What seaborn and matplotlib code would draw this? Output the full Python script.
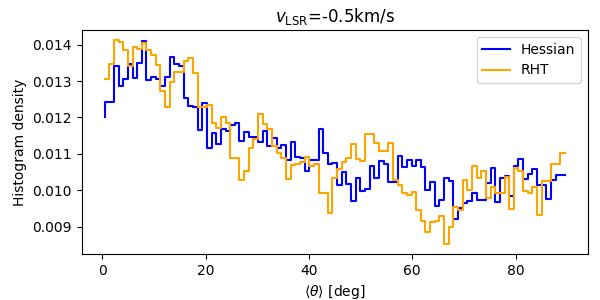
import numpy as np
import pandas as pd
import matplotlib
matplotlib.use("Agg")
import matplotlib.pyplot as plt
import seaborn as sns

# ===== 데이터: 100개 bin (0~90 deg, 폭 0.9) 의 중심값 =====
theta = np.linspace(0.45, 89.55, 100)

hessian = [
    0.01202, 0.01243, 0.01243, 0.01340, 0.01285, 0.01306, 0.01347, 0.01308, 0.01350, 0.01409,
    0.01303, 0.01310, 0.01305, 0.01287, 0.01310, 0.01365, 0.01347, 0.01340, 0.01253, 0.01232,
    0.01230, 0.01166, 0.01241, 0.01115, 0.01158, 0.01128, 0.01169, 0.01164, 0.01180, 0.01184,
    0.01135, 0.01161, 0.01146, 0.01147, 0.01133, 0.01164, 0.01121, 0.01144, 0.01116, 0.01125,
    0.01083, 0.01134, 0.01091, 0.01090, 0.01052, 0.01082, 0.01082, 0.01167, 0.01103, 0.01072,
    0.01075, 0.01016, 0.01049, 0.01017, 0.00970, 0.01035, 0.00999, 0.01005, 0.01068, 0.01033,
    0.01080, 0.01073, 0.01022, 0.01022, 0.01095, 0.01063, 0.01083, 0.01068, 0.01084, 0.01065,
    0.01000, 0.01022, 0.00958, 0.00973, 0.01033, 0.01025, 0.00920, 0.00951, 0.00964, 0.00972,
    0.00994, 0.00974, 0.00974, 0.01019, 0.01060, 0.00969, 0.01033, 0.01040, 0.00985, 0.01068,
    0.01085, 0.01030, 0.01046, 0.01058, 0.01014, 0.01014, 0.00976, 0.01028, 0.01043, 0.01043,
]

rht = [
    0.01306, 0.01306, 0.01347, 0.01412, 0.01406, 0.01386, 0.01340, 0.01392, 0.01388, 0.01403,
    0.01384, 0.01370, 0.01345, 0.01272, 0.01228, 0.01297, 0.01324, 0.01324, 0.01356, 0.01362,
    0.01321, 0.01228, 0.01228, 0.01235, 0.01186, 0.01170, 0.01200, 0.01184, 0.01088, 0.01088,
    0.01028, 0.01054, 0.01115, 0.01140, 0.01210, 0.01181, 0.01167, 0.01121, 0.01102, 0.01090,
    0.01030, 0.01070, 0.01073, 0.01077, 0.01091, 0.01068, 0.01072, 0.00993, 0.00993, 0.00939,
    0.01033, 0.01058, 0.01079, 0.01088, 0.01127, 0.01086, 0.01081, 0.01155, 0.01155, 0.01130,
    0.01107, 0.01107, 0.01130, 0.01029, 0.01015, 0.00993, 0.00988, 0.00995, 0.00945, 0.00916,
    0.00887, 0.00912, 0.00915, 0.00930, 0.00853, 0.00900, 0.00953, 0.00945, 0.01028, 0.01002,
    0.01066, 0.01035, 0.01054, 0.00978, 0.01008, 0.00994, 0.00994, 0.01036, 0.00950, 0.01060,
    0.01054, 0.00997, 0.00994, 0.01008, 0.00933, 0.01026, 0.01026, 0.01072, 0.01072, 0.01102,
]

df = pd.DataFrame({"theta": theta, "Hessian": hessian, "RHT": rht})

# ===== 그림 =====
fig, ax = plt.subplots(figsize=(6, 3), dpi=100)
fig.subplots_adjust(left=0.136, right=0.98, bottom=0.153, top=0.9)

sns.lineplot(data=df, x="theta", y="Hessian", ax=ax, color="blue",
             drawstyle="steps-pre", label="Hessian", errorbar=None, linewidth=1.5)
sns.lineplot(data=df, x="theta", y="RHT", ax=ax, color="orange",
             drawstyle="steps-pre", label="RHT", errorbar=None, linewidth=1.5)

ax.set_title(r"$v_{\rm LSR}$=-0.5km/s")
ax.set_xlabel(r"$\langle\theta\rangle$ [deg]")
ax.set_ylabel("Histogram density")
ax.legend(loc="upper right")

fig.savefig("out.png", dpi=100)
